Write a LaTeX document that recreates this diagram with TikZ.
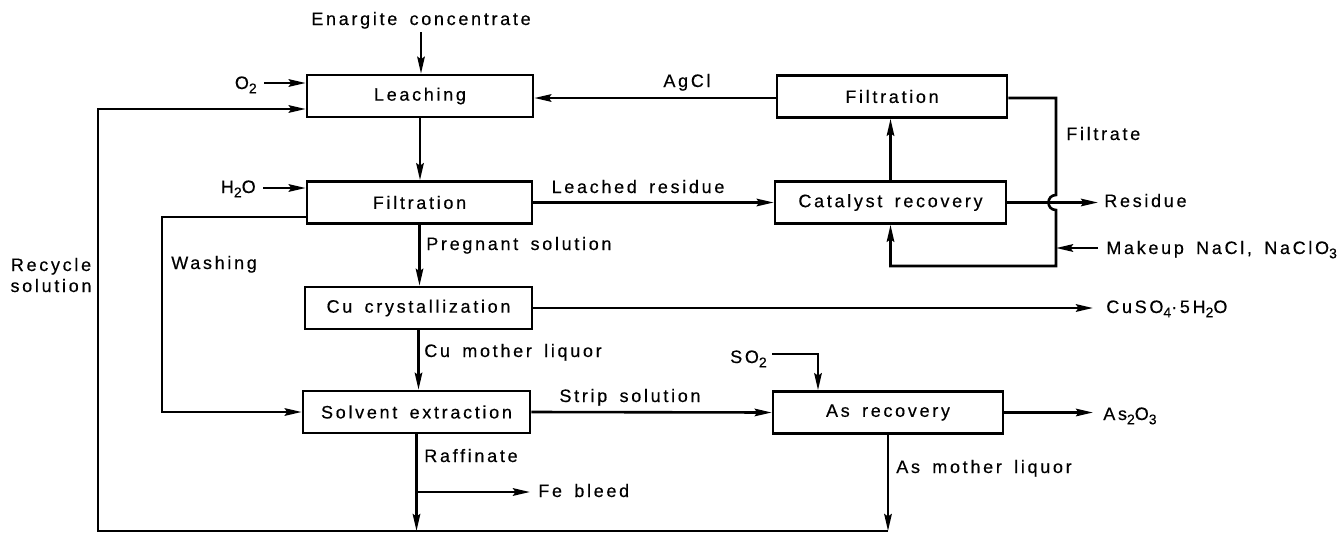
\documentclass[tikz,border=0pt]{standalone}
\usepackage{fontspec}
\setmainfont{Liberation Sans}[LetterSpace=15,FakeBold=0.4,WordSpace=1.6]
\usetikzlibrary{arrows.meta}
\newcommand{\sbs}[1]{\raisebox{-0.45ex}{\fontsize{14}{14}\selectfont #1}}
\begin{document}
\begin{tikzpicture}[x=1pt,y=-1pt,
  font=\fontsize{18}{21}\selectfont,
  line width=2.6pt,
  box/.style={draw, line width=2.6pt, minimum width=#1, minimum height=42pt, inner sep=0pt},
  arr/.style={-{Stealth[length=17pt,width=7.5pt,inset=2.5pt]}},
  lab/.style={inner sep=0pt, anchor=base west},
  labc/.style={inner sep=0pt, anchor=base},
  labe/.style={inner sep=0pt, anchor=base east}]
\useasboundingbox (0,0) rectangle (1338,533);

% process boxes
\node[box=226pt] (leach) at (420,96) {Leaching};
\node[box=225pt] (filt1) at (419.5,202.5) {Filtration};
\node[box=230pt] (filt2) at (892,96.5) {Filtration};
\node[box=231pt] (cat) at (890.5,202.5) {Catalyst recovery};
\node[box=227pt] (cu) at (418.5,308) {Cu crystallization};
\node[box=227pt] (sx) at (416.5,412) {Solvent extraction};
\node[box=230pt] (asr) at (888,412.5) {As recovery};

% labels
\node[labc] (enar) at (421,25) {Enargite concentrate};
\node[labe] (o2) at (258,89) {O\sbs{2}};
\node[labe] (h2o) at (257,193) {H\sbs{2}O};
\node[labc] (agcl) at (687,87) {AgCl};
\node[labc] (lres) at (638,193) {Leached residue};
\node[lab] (filtr) at (1065,140) {Filtrate};
\node[lab] (resid) at (1103,207) {Residue};
\node[lab] (mkup) at (1105,254) {Makeup NaCl, NaClO\sbs{3}};
\node[lab] (preg) at (425,250) {Pregnant solution};
\node[lab] (wash) at (170,269) {Washing};
\node[labc, align=center] (recy) at (51,292) {Recycle\\solution};
\node[lab] (cuml) at (423,357) {Cu mother liquor};
\node[lab] (cuso) at (1105,313) {CuSO\sbs{4}·5H\sbs{2}O};
\node[labe] (so2) at (768,363) {SO\sbs{2}};
\node[labc] (strip) at (630,402) {Strip solution};
\node[lab] (as2o3) at (1102,420) {As\sbs{2}O\sbs{3}};
\node[lab] (raff) at (423,462) {Raffinate};
\node[lab] (fe) at (537,497) {Fe bleed};
\node[lab] (asml) at (895,473) {As mother liquor};

% helper coordinates
\coordinate (bL) at (98,531);
\coordinate (rTop) at (98,109);
\coordinate (w1) at (162,217);
\coordinate (w2) at (162,412);
\coordinate (ag) at (0,98);
\coordinate (fr) at (1056,0);
\coordinate (mky) at (0,248);
\coordinate (s1) at (818,354);
\coordinate (fey) at (0,492);
\coordinate (o2y) at (0,83);
\coordinate (h2oy) at (0,188);
\coordinate (enT) at (421,32);

% main flow
\draw[arr] (enT) -- (enT |- leach.north);
\draw[arr] (leach.south) -- (leach.south |- filt1.north);
\draw[arr] (filt1.south) -- (filt1.south |- cu.north);
\draw[arr] (cu.south) -- (cu.south |- sx.north);
\draw[arr] (sx.south) -- (sx.south |- bL);
\draw[arr] (asr.south) -- (asr.south |- bL);

% inputs
\draw[arr] ([xshift=6pt]o2.east |- o2y) -- (leach.west |- o2y);
\draw[arr] ([xshift=6pt]h2o.east |- h2oy) -- (filt1.west |- h2oy);
\draw[arr] ([xshift=4pt]so2.east |- s1) -- (s1) -- (s1 |- asr.north);

% recycle
\draw[arr] (asr.south |- bL) -- (bL) -- (rTop) -- (rTop -| leach.west);

% washing
\draw[arr] (w1 -| filt1.west) -- (w1) -- (w2) -- (w2 -| sx.west);

% catalyst loop
\draw[arr] (filt1.east) -- (cat.west);
\draw[arr] (cat.north) -- (cat.north |- filt2.south);
\draw[arr] (filt2.west |- ag) -- (leach.east |- ag);
\draw[arr] (filt2.east |- ag) -- (fr |- ag) -- (1056,195)
  .. controls (1046,195) and (1046,210) .. (1056,210)
  -- (1056,266) -- (cat.south |- 0,266) -- (cat.south);
\draw[arr] ([xshift=-7pt]mkup.west |- mky) -- (fr |- mky);
\draw[arr] (cat.east) -- ([xshift=-5pt]resid.west |- cat.east);

% products
\draw[arr] (cu.east) -- ([xshift=-12pt]cuso.west |- cu.east);
\draw[arr] (sx.east) -- (asr.west);
\draw[arr] (asr.east) -- ([xshift=-9pt]as2o3.west |- asr.east);
\draw[arr] (sx.south |- fey) -- ([xshift=-7pt]fe.west |- fey);
\end{tikzpicture}
\end{document}
